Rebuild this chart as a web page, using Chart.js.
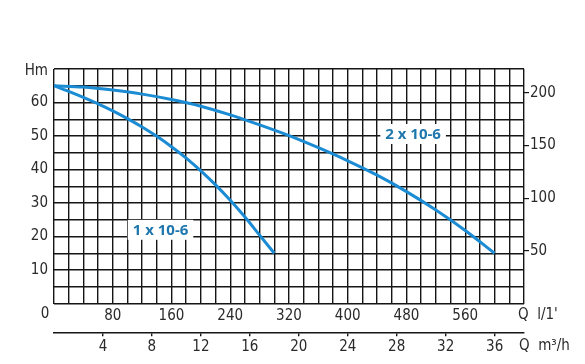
<!DOCTYPE html>
<html>
<head>
<meta charset="utf-8">
<script src="https://cdn.jsdelivr.net/npm/chart.js@4/dist/chart.umd.min.js"></script>
<style>
html,body{margin:0;padding:0;background:#fff;}
canvas{display:block;}
</style>
</head>
<body>
<canvas id="c" width="585" height="364"></canvas>
<script>
// ---- data ----
const series1Name = "1 x 10-6";
const series1Flow = [0,20,40,60,80,100,120,140,160,180,200,220,240,260,280,300]; // l/min
const series1Head = [65,63.3,61.5,59.6,57.5,55.2,52.7,49.9,46.8,43.4,39.6,35.4,30.8,25.8,20.4,15]; // m

const series2Name = "2 x 10-6";
const series2Flow = [0,40,80,120,160,200,240,280,320,360,400,440,480,520,560,600];
const series2Head = [65,64.6,63.7,62.5,60.9,58.9,56.3,53.3,50.1,46.5,42.6,38.3,33.4,27.9,21.8,15];

const flowGrid = [0,20,40,60,80,100,120,140,160,180,200,220,240,260,280,300,320,340,360,380,400,420,440,460,480,500,520,540,560,580,600,620,640];
const flowLabels = [80,160,240,320,400,480,560];
const m3hTicks = [4,8,12,16,20,24,28,32,36];
const headGrid = [0,5,10,15,20,25,30,35,40,45,50,55,60,65,70];
const headLabels = [10,20,30,40,50,60];
const rightTicks = [50,100,150,200];

const FONT = "'Liberation Sans Narrow','DejaVu Sans Condensed',sans-serif";
const TXT = '#2a2a2a';
const GRID = '#151515';
const CURVE = '#1b8bd3';
const LABEL = '#1f77ad';

const toPts = (xs, ys) => xs.map((x,i)=>({x:x, y:ys[i]}));

const textPlugin = {
  id:'texts',
  afterDraw(chart){
    const {ctx, scales} = chart;
    const sx = scales.x, sy = scales.y;
    ctx.save();
    const labs = [[series1Name,145,22],[series2Name,489,50.6]];
    ctx.font = "bold 15px 'Open Sans', sans-serif";
    labs.forEach(([t,q,h])=>{
      const px = sx.getPixelForValue(q), py = sy.getPixelForValue(h);
      const w = ctx.measureText(t).width;
      ctx.fillStyle = '#fff';
      ctx.fillRect(px - w/2 - 5, py - 10, w + 10, 20);
      ctx.fillStyle = LABEL;
      ctx.textAlign = 'center';
      ctx.textBaseline = 'middle';
      ctx.fillText(t, px, py+1);
    });
    ctx.font = "15px " + FONT;
    ctx.fillStyle = TXT;
    ctx.textAlign = 'right'; ctx.textBaseline='middle';
    ctx.fillText('Hm', sx.left - 6, sy.top + 2);
    ctx.textAlign = 'center';
    ctx.fillText('0', sx.getPixelForValue(0) - 9, sy.bottom + 11);
    ctx.textAlign = 'left';
    ctx.fillText("Q  l/1'", sx.right - 6, sy.bottom + 12);
    ctx.fillText("Q  m\u00B3/h", sx.right - 5, sy.bottom + 43);
    ctx.restore();
  }
};

new Chart(document.getElementById('c'), {
  type:'scatter',
  data:{
    datasets:[
      {label:series1Name, data:toPts(series1Flow, series1Head), showLine:true, borderColor:CURVE, borderWidth:3, pointRadius:0, cubicInterpolationMode:'monotone', fill:false, xAxisID:'x', yAxisID:'y'},
      {label:series2Name, data:toPts(series2Flow, series2Head), showLine:true, borderColor:CURVE, borderWidth:3, pointRadius:0, cubicInterpolationMode:'monotone', fill:false, xAxisID:'x', yAxisID:'y'}
    ]
  },
  options:{
    responsive:false,
    animation:false,
    layout:{padding:{top:69,left:0,right:0,bottom:0}},
    plugins:{legend:{display:false}, tooltip:{enabled:false}},
    scales:{
      x:{
        type:'linear', position:'bottom', min:0, max:640,
        afterBuildTicks:s=>{s.ticks = flowGrid.map(v=>({value:v}));},
        afterFit:s=>{s.height = 28.8;},
        grid:{color:GRID, lineWidth:1.4, drawTicks:false},
        border:{display:false},
        ticks:{autoSkip:false, maxRotation:0, padding:4, color:TXT, font:{family:FONT,size:15},
          callback:v=> flowLabels.includes(v) ? String(v) : ''}
      },
      x2:{
        type:'linear', position:'bottom', min:0, max:38.4,
        afterBuildTicks:s=>{s.ticks = m3hTicks.map(v=>({value:v}));},
        afterFit:s=>{s.height = 31.7;},
        grid:{drawOnChartArea:false, drawTicks:true, tickLength:4, color:GRID, lineWidth:1.4},
        border:{display:true, color:GRID, width:1.4},
        ticks:{autoSkip:false, maxRotation:0, padding:2, color:TXT, font:{family:FONT,size:15},
          callback:v=>String(v)}
      },
      y:{
        type:'linear', position:'left', min:0, max:70,
        afterBuildTicks:s=>{s.ticks = headGrid.map(v=>({value:v}));},
        afterFit:s=>{s.width = 54;},
        grid:{color:GRID, lineWidth:1.4, drawTicks:false},
        border:{display:false},
        ticks:{autoSkip:false, padding:6, color:TXT, font:{family:FONT,size:15},
          callback:v=> headLabels.includes(v) ? String(v) : ''}
      },
      y2:{
        type:'linear', position:'right', min:0, max:222.5,
        afterBuildTicks:s=>{s.ticks = rightTicks.map(v=>({value:v}));},
        afterFit:s=>{s.width = 61;},
        grid:{drawOnChartArea:false, drawTicks:true, tickLength:5, color:GRID, lineWidth:1.2},
        border:{display:false},
        ticks:{autoSkip:false, padding:1, color:TXT, font:{family:FONT,size:15},
          callback:v=>String(v)}
      }
    }
  },
  plugins:[textPlugin]
});
</script>
</body>
</html>
